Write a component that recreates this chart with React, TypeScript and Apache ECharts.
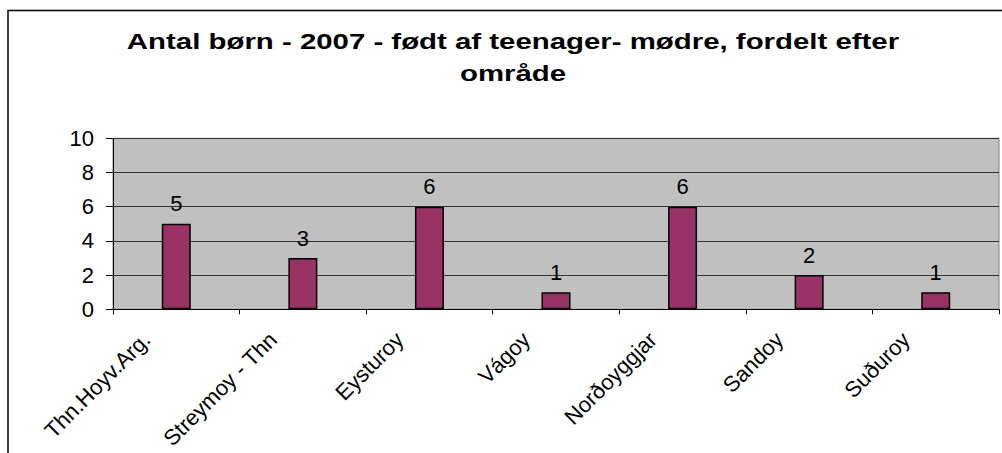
import React, { useEffect, useRef } from "react";
import * as echarts from "echarts";

const categories = ["Thn.Hoyv.Arg.", "Streymoy - Thn", "Eysturoy", "Vágoy", "Norðoyggjar", "Sandoy", "Suðuroy"];
const values = [5, 3, 6, 1, 6, 2, 1];
const titleLines = ["Antal børn - 2007 - født af teenager- mødre, fordelt efter", "område"];
const yMin = 0;
const yMax = 10;
const yInterval = 2;

const FONT = '"Liberation Sans", Arial, Helvetica, sans-serif';

export default function App() {
  const ref = useRef<HTMLDivElement>(null);
  useEffect(() => {
    if (!ref.current) return;
    const chart = echarts.init(ref.current, undefined, { renderer: "svg" });
    chart.setOption({
      animation: false,
      backgroundColor: "#ffffff",
      textStyle: { fontFamily: FONT },
      graphic: [
        {
          type: "rect",
          shape: { x: 8, y: 10.5, width: 2000, height: 2000 },
          style: { fill: "none", stroke: "#000", lineWidth: 1.5 },
          silent: true,
        },
        ...titleLines.map((t, i) => ({
          type: "text",
          x: 513,
          y: 41.5 + i * 32,
          scaleX: 1.336,
          style: {
            text: t,
            fontSize: 22,
            fontWeight: "bold",
            fontFamily: FONT,
            fill: "#000",
            align: "center",
            verticalAlign: "middle",
          },
        })),
      ],
      grid: {
        left: 113,
        top: 138.3,
        width: 886,
        height: 171,
        show: true,
        containLabel: false,
        outerBoundsMode: "none",
        backgroundColor: "#C0C0C0",
        borderColor: "#808080",
        borderWidth: 1,
      },
      xAxis: {
        type: "category",
        data: categories,
        boundaryGap: true,
        axisLine: { show: true, lineStyle: { color: "#000", width: 1 } },
        axisTick: { show: true, length: 5, interval: 0, lineStyle: { color: "#000" } },
        axisLabel: {
          interval: 0,
          rotate: 45,
          fontSize: 22,
          color: "#000",
          fontFamily: FONT,
          margin: -3,
          padding: [0, 42, 0, 0],
          hideOverlap: false,
        },
        splitLine: { show: false },
      },
      yAxis: {
        type: "value",
        min: yMin,
        max: yMax,
        interval: yInterval,
        axisLine: { show: true, lineStyle: { color: "#000", width: 1 } },
        axisTick: { show: true, length: 7, lineStyle: { color: "#000" } },
        axisLabel: { fontSize: 22, color: "#000", fontFamily: FONT, margin: 19 },
        splitLine: { show: true, lineStyle: { color: "#333", width: 1 } },
      },
      series: [
        {
          type: "bar",
          data: values,
          barWidth: 29,
          itemStyle: { color: "#993366", borderColor: "#000", borderWidth: 1.5 },
          label: {
            show: true,
            position: "top",
            distance: 9,
            fontSize: 22,
            color: "#000",
            fontFamily: FONT,
          },
        },
      ],
    });
    return () => chart.dispose();
  }, []);
  return (
    <div
      ref={ref}
      style={{ position: "fixed", left: 0, top: 0, width: 1002, height: 453 }}
    />
  );
}
